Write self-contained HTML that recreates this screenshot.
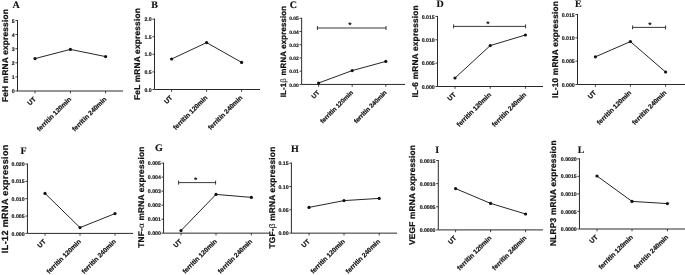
<!DOCTYPE html>
<html><head><meta charset="utf-8"><title>mRNA expression charts</title><style>
html,body{margin:0;padding:0;background:#fff;}
svg{display:block;filter:grayscale(1) blur(0.25px);}
text{font-family:"Liberation Sans",sans-serif;font-weight:bold;fill:#111;text-rendering:geometricPrecision;}
.lt{font-family:"Liberation Serif",serif;font-weight:bold;font-size:10px;fill:#111;stroke:#111;stroke-width:0.15px;}
.yl{font-size:8.65px;letter-spacing:0.2px;stroke:#111;stroke-width:0.25px;}
.tk{font-size:4.8px;stroke:#111;stroke-width:0.15px;}
.xl{font-size:6.6px;stroke:#111;stroke-width:0.2px;}
.gk{font-weight:normal;stroke-width:0.05px;}
</style></head><body>
<svg width="685" height="275" viewBox="0 0 685 275">
<rect width="685" height="275" fill="#fff"/>
<g>
<text class="lt" x="12.4" y="7.7">A</text>
<path d="M17.5 20.0V91.0H123" fill="none" stroke="#2a2a2a" stroke-width="1"/>
<path d="M15.40 91.00H17.5M15.40 76.90H17.5M15.40 62.80H17.5M15.40 48.70H17.5M15.40 34.60H17.5M15.40 20.50H17.5M35 91.0V93.30M70.4 91.0V93.30M105.6 91.0V93.30" fill="none" stroke="#2a2a2a" stroke-width="0.9"/>
<text class="tk" style="font-size:5.20px" text-anchor="end" x="14.7" y="93.10">0</text>
<text class="tk" style="font-size:5.20px" text-anchor="end" x="14.7" y="79.00">1</text>
<text class="tk" style="font-size:5.20px" text-anchor="end" x="14.7" y="64.90">2</text>
<text class="tk" style="font-size:5.20px" text-anchor="end" x="14.7" y="50.80">3</text>
<text class="tk" style="font-size:5.20px" text-anchor="end" x="14.7" y="36.70">4</text>
<text class="tk" style="font-size:5.20px" text-anchor="end" x="14.7" y="22.60">5</text>
<text class="xl" style="font-size:6.60px" text-anchor="end" transform="translate(36.3,99.6) rotate(-45)">UT</text>
<text class="xl" style="font-size:6.60px" text-anchor="end" transform="translate(71.7,99.6) rotate(-45)">ferritin 120min</text>
<text class="xl" style="font-size:6.60px" text-anchor="end" transform="translate(106.9,99.6) rotate(-45)">ferritin 240min</text>
<text class="yl" style="font-size:8.30px;letter-spacing:0.2px" text-anchor="middle" transform="translate(8.2,55.5) rotate(-90)">FeH mRNA expression</text>
<path d="M35 58.6L70.4 49.4L105.6 56.6" fill="none" stroke="#1a1a1a" stroke-width="0.95"/>
<circle cx="35" cy="58.6" r="1.6" fill="#111"/>
<circle cx="70.4" cy="49.4" r="1.6" fill="#111"/>
<circle cx="105.6" cy="56.6" r="1.6" fill="#111"/>
</g>
<g>
<text class="lt" x="151.3" y="7.9">B</text>
<path d="M154.5 18.64V89.5H260" fill="none" stroke="#2a2a2a" stroke-width="1"/>
<path d="M152.40 89.50H154.5M152.40 71.91H154.5M152.40 54.32H154.5M152.40 36.73H154.5M152.40 19.14H154.5M171.6 89.5V91.80M206.6 89.5V91.80M241.6 89.5V91.80" fill="none" stroke="#2a2a2a" stroke-width="0.9"/>
<text class="tk" style="font-size:5.20px" text-anchor="end" x="151.7" y="91.60">0.0</text>
<text class="tk" style="font-size:5.20px" text-anchor="end" x="151.7" y="74.01">0.5</text>
<text class="tk" style="font-size:5.20px" text-anchor="end" x="151.7" y="56.42">1.0</text>
<text class="tk" style="font-size:5.20px" text-anchor="end" x="151.7" y="38.83">1.5</text>
<text class="tk" style="font-size:5.20px" text-anchor="end" x="151.7" y="21.24">2.0</text>
<text class="xl" style="font-size:6.60px" text-anchor="end" transform="translate(172.9,98.1) rotate(-45)">UT</text>
<text class="xl" style="font-size:6.60px" text-anchor="end" transform="translate(207.9,98.1) rotate(-45)">ferritin 120min</text>
<text class="xl" style="font-size:6.60px" text-anchor="end" transform="translate(242.9,98.1) rotate(-45)">ferritin 240min</text>
<text class="yl" style="font-size:8.30px;letter-spacing:0.2px" text-anchor="middle" transform="translate(139.8,54.0) rotate(-90)">FeL mRNA expression</text>
<path d="M171.6 59L206.6 42.6L241.6 62.4" fill="none" stroke="#1a1a1a" stroke-width="0.95"/>
<circle cx="171.6" cy="59" r="1.6" fill="#111"/>
<circle cx="206.6" cy="42.6" r="1.6" fill="#111"/>
<circle cx="241.6" cy="62.4" r="1.6" fill="#111"/>
</g>
<g>
<text class="lt" x="289.7" y="7.5">C</text>
<path d="M301.65 17.799999999999997V84.45H405" fill="none" stroke="#2a2a2a" stroke-width="1"/>
<path d="M299.55 84.45H301.65M299.55 71.22H301.65M299.55 57.99H301.65M299.55 44.76H301.65M299.55 31.53H301.65M299.55 18.30H301.65M318.6 84.45V86.75M352.2 84.45V86.75M385.8 84.45V86.75" fill="none" stroke="#2a2a2a" stroke-width="0.9"/>
<text class="tk" style="font-size:4.97px" text-anchor="end" x="298.8" y="86.55">0.00</text>
<text class="tk" style="font-size:4.97px" text-anchor="end" x="298.8" y="73.32">0.01</text>
<text class="tk" style="font-size:4.97px" text-anchor="end" x="298.8" y="60.09">0.02</text>
<text class="tk" style="font-size:4.97px" text-anchor="end" x="298.8" y="46.86">0.03</text>
<text class="tk" style="font-size:4.97px" text-anchor="end" x="298.8" y="33.63">0.04</text>
<text class="tk" style="font-size:4.97px" text-anchor="end" x="298.8" y="20.40">0.05</text>
<text class="xl" style="font-size:6.30px" text-anchor="end" transform="translate(319.9,93.0) rotate(-45)">UT</text>
<text class="xl" style="font-size:6.30px" text-anchor="end" transform="translate(353.5,93.0) rotate(-45)">ferritin 120min</text>
<text class="xl" style="font-size:6.30px" text-anchor="end" transform="translate(387.1,93.0) rotate(-45)">ferritin 240min</text>
<text class="yl" style="font-size:7.80px;letter-spacing:0.2px" text-anchor="middle" transform="translate(286.1,51.5) rotate(-90)">IL-1<tspan class="gk">β</tspan> mRNA expression</text>
<path d="M318.6 83L352.2 70.6L385.8 61.4" fill="none" stroke="#1a1a1a" stroke-width="0.95"/>
<circle cx="318.6" cy="83" r="1.6" fill="#111"/>
<circle cx="352.2" cy="70.6" r="1.6" fill="#111"/>
<circle cx="385.8" cy="61.4" r="1.6" fill="#111"/>
<path d="M317.4 28H386M317.4 26V30M386 26V30" fill="none" stroke="#222" stroke-width="0.9"/>
<text x="350" y="28.1" text-anchor="middle" style="font-size:8.5px">*</text>
</g>
<g>
<text class="lt" x="436.5" y="7.4">D</text>
<path d="M437.5 15.949999999999989V86.5H543" fill="none" stroke="#2a2a2a" stroke-width="1"/>
<path d="M435.40 86.50H437.5M435.40 63.15H437.5M435.40 39.80H437.5M435.40 16.45H437.5M455 86.5V88.80M490.2 86.5V88.80M525.4 86.5V88.80" fill="none" stroke="#2a2a2a" stroke-width="0.9"/>
<text class="tk" style="font-size:5.20px" text-anchor="end" x="434.7" y="88.60">0.000</text>
<text class="tk" style="font-size:5.20px" text-anchor="end" x="434.7" y="65.25">0.005</text>
<text class="tk" style="font-size:5.20px" text-anchor="end" x="434.7" y="41.90">0.010</text>
<text class="tk" style="font-size:5.20px" text-anchor="end" x="434.7" y="18.55">0.015</text>
<text class="xl" style="font-size:6.60px" text-anchor="end" transform="translate(456.3,95.1) rotate(-45)">UT</text>
<text class="xl" style="font-size:6.60px" text-anchor="end" transform="translate(491.5,95.1) rotate(-45)">ferritin 120min</text>
<text class="xl" style="font-size:6.60px" text-anchor="end" transform="translate(526.7,95.1) rotate(-45)">ferritin 240min</text>
<text class="yl" style="font-size:8.30px;letter-spacing:0.2px" text-anchor="middle" transform="translate(417.7,51.3) rotate(-90)">IL-6 mRNA expression</text>
<path d="M455 78L490.2 45.6L525.4 35" fill="none" stroke="#1a1a1a" stroke-width="0.95"/>
<circle cx="455" cy="78" r="1.6" fill="#111"/>
<circle cx="490.2" cy="45.6" r="1.6" fill="#111"/>
<circle cx="525.4" cy="35" r="1.6" fill="#111"/>
<path d="M453.6 26.4H525.6M453.6 24.4V28.4M525.6 24.4V28.4" fill="none" stroke="#222" stroke-width="0.9"/>
<text x="488" y="27.1" text-anchor="middle" style="font-size:8.5px">*</text>
</g>
<g>
<text class="lt" x="575" y="7.2">E</text>
<path d="M577.5 14.010000000000005V84.5H685" fill="none" stroke="#2a2a2a" stroke-width="1"/>
<path d="M575.40 84.50H577.5M575.40 61.17H577.5M575.40 37.84H577.5M575.40 14.51H577.5M595.4 84.5V86.80M630.4 84.5V86.80M665.6 84.5V86.80" fill="none" stroke="#2a2a2a" stroke-width="0.9"/>
<text class="tk" style="font-size:5.20px" text-anchor="end" x="574.7" y="86.60">0.000</text>
<text class="tk" style="font-size:5.20px" text-anchor="end" x="574.7" y="63.27">0.005</text>
<text class="tk" style="font-size:5.20px" text-anchor="end" x="574.7" y="39.94">0.010</text>
<text class="tk" style="font-size:5.20px" text-anchor="end" x="574.7" y="16.61">0.015</text>
<text class="xl" style="font-size:6.60px" text-anchor="end" transform="translate(596.7,93.1) rotate(-45)">UT</text>
<text class="xl" style="font-size:6.60px" text-anchor="end" transform="translate(631.7,93.1) rotate(-45)">ferritin 120min</text>
<text class="xl" style="font-size:6.60px" text-anchor="end" transform="translate(666.9,93.1) rotate(-45)">ferritin 240min</text>
<text class="yl" style="font-size:8.30px;letter-spacing:0.2px" text-anchor="middle" transform="translate(558.2,49.5) rotate(-90)">IL-10 mRNA expression</text>
<path d="M595.4 56.8L630.4 41.6L665.6 72" fill="none" stroke="#1a1a1a" stroke-width="0.95"/>
<circle cx="595.4" cy="56.8" r="1.6" fill="#111"/>
<circle cx="630.4" cy="41.6" r="1.6" fill="#111"/>
<circle cx="665.6" cy="72" r="1.6" fill="#111"/>
<path d="M632.6 27.4H665.6M632.6 25.4V29.4M665.6 25.4V29.4" fill="none" stroke="#222" stroke-width="0.9"/>
<text x="650" y="28.1" text-anchor="middle" style="font-size:8.5px">*</text>
</g>
<g>
<text class="lt" x="20.6" y="154">F</text>
<path d="M27.45 163.54000000000002V233.4H133" fill="none" stroke="#2a2a2a" stroke-width="1"/>
<path d="M25.35 233.40H27.45M25.35 216.06H27.45M25.35 198.72H27.45M25.35 181.38H27.45M25.35 164.04H27.45M45 233.4V235.70M80 233.4V235.70M115 233.4V235.70" fill="none" stroke="#2a2a2a" stroke-width="0.9"/>
<text class="tk" style="font-size:5.20px" text-anchor="end" x="24.6" y="235.50">0.000</text>
<text class="tk" style="font-size:5.20px" text-anchor="end" x="24.6" y="218.16">0.005</text>
<text class="tk" style="font-size:5.20px" text-anchor="end" x="24.6" y="200.82">0.010</text>
<text class="tk" style="font-size:5.20px" text-anchor="end" x="24.6" y="183.48">0.015</text>
<text class="tk" style="font-size:5.20px" text-anchor="end" x="24.6" y="166.14">0.020</text>
<text class="xl" style="font-size:6.60px" text-anchor="end" transform="translate(46.3,242.0) rotate(-45)">UT</text>
<text class="xl" style="font-size:6.60px" text-anchor="end" transform="translate(81.3,242.0) rotate(-45)">ferritin 120min</text>
<text class="xl" style="font-size:6.60px" text-anchor="end" transform="translate(116.3,242.0) rotate(-45)">ferritin 240min</text>
<text class="yl" style="font-size:9.00px;letter-spacing:0.39px" text-anchor="middle" transform="translate(7.5,198.7) rotate(-90)">IL-12 mRNA expression</text>
<path d="M45 193.4L80 227.6L115 213.6" fill="none" stroke="#1a1a1a" stroke-width="0.95"/>
<circle cx="45" cy="193.4" r="1.6" fill="#111"/>
<circle cx="80" cy="227.6" r="1.6" fill="#111"/>
<circle cx="115" cy="213.6" r="1.6" fill="#111"/>
</g>
<g>
<text class="lt" x="155" y="151.2">G</text>
<path d="M163.55 162.65V233.15H269.5" fill="none" stroke="#2a2a2a" stroke-width="1"/>
<path d="M161.45 233.15H163.55M161.45 219.15H163.55M161.45 205.15H163.55M161.45 191.15H163.55M161.45 177.15H163.55M161.45 163.15H163.55M181 233.15V235.45M216 233.15V235.45M251.4 233.15V235.45" fill="none" stroke="#2a2a2a" stroke-width="0.9"/>
<text class="tk" style="font-size:5.20px" text-anchor="end" x="160.8" y="235.25">0.000</text>
<text class="tk" style="font-size:5.20px" text-anchor="end" x="160.8" y="221.25">0.001</text>
<text class="tk" style="font-size:5.20px" text-anchor="end" x="160.8" y="207.25">0.002</text>
<text class="tk" style="font-size:5.20px" text-anchor="end" x="160.8" y="193.25">0.003</text>
<text class="tk" style="font-size:5.20px" text-anchor="end" x="160.8" y="179.25">0.004</text>
<text class="tk" style="font-size:5.20px" text-anchor="end" x="160.8" y="165.25">0.005</text>
<text class="xl" style="font-size:6.60px" text-anchor="end" transform="translate(182.3,241.8) rotate(-45)">UT</text>
<text class="xl" style="font-size:6.60px" text-anchor="end" transform="translate(217.3,241.8) rotate(-45)">ferritin 120min</text>
<text class="xl" style="font-size:6.60px" text-anchor="end" transform="translate(252.7,241.8) rotate(-45)">ferritin 240min</text>
<text class="yl" style="font-size:8.30px;letter-spacing:0.2px" text-anchor="middle" transform="translate(144.4,197.1) rotate(-90)">TNF-<tspan class="gk">α</tspan> mRNA expression</text>
<path d="M181 230.6L216 194.4L251.4 197.4" fill="none" stroke="#1a1a1a" stroke-width="0.95"/>
<circle cx="181" cy="230.6" r="1.6" fill="#111"/>
<circle cx="216" cy="194.4" r="1.6" fill="#111"/>
<circle cx="251.4" cy="197.4" r="1.6" fill="#111"/>
<path d="M178.6 182.6H215.6M178.6 180.6V184.6M215.6 180.6V184.6" fill="none" stroke="#222" stroke-width="0.9"/>
<text x="195.6" y="183.1" text-anchor="middle" style="font-size:8.5px">*</text>
</g>
<g>
<text class="lt" x="291.0" y="151.6">H</text>
<path d="M291.4 162.66000000000003V233.15H397" fill="none" stroke="#2a2a2a" stroke-width="1"/>
<path d="M289.30 233.15H291.4M289.30 209.82H291.4M289.30 186.49H291.4M289.30 163.16H291.4M309 233.15V235.45M344 233.15V235.45M379.2 233.15V235.45" fill="none" stroke="#2a2a2a" stroke-width="0.9"/>
<text class="tk" style="font-size:5.20px" text-anchor="end" x="288.6" y="235.25">0.00</text>
<text class="tk" style="font-size:5.20px" text-anchor="end" x="288.6" y="211.92">0.05</text>
<text class="tk" style="font-size:5.20px" text-anchor="end" x="288.6" y="188.59">0.10</text>
<text class="tk" style="font-size:5.20px" text-anchor="end" x="288.6" y="165.26">0.15</text>
<text class="xl" style="font-size:6.60px" text-anchor="end" transform="translate(310.3,241.8) rotate(-45)">UT</text>
<text class="xl" style="font-size:6.60px" text-anchor="end" transform="translate(345.3,241.8) rotate(-45)">ferritin 120min</text>
<text class="xl" style="font-size:6.60px" text-anchor="end" transform="translate(380.5,241.8) rotate(-45)">ferritin 240min</text>
<text class="yl" style="font-size:8.30px;letter-spacing:0.2px" text-anchor="middle" transform="translate(275.1,197.5) rotate(-90)">TGF-<tspan class="gk">β</tspan> mRNA expression</text>
<path d="M309 207.4L344 200.6L379.2 198.4" fill="none" stroke="#1a1a1a" stroke-width="0.95"/>
<circle cx="309" cy="207.4" r="1.6" fill="#111"/>
<circle cx="344" cy="200.6" r="1.6" fill="#111"/>
<circle cx="379.2" cy="198.4" r="1.6" fill="#111"/>
</g>
<g>
<text class="lt" x="435.2" y="152.7">I</text>
<path d="M438.3 160.01V229.9H543" fill="none" stroke="#2a2a2a" stroke-width="1"/>
<path d="M436.20 229.90H438.3M436.20 206.77H438.3M436.20 183.64H438.3M436.20 160.51H438.3M455.6 229.9V232.20M490.6 229.9V232.20M525.6 229.9V232.20" fill="none" stroke="#2a2a2a" stroke-width="0.9"/>
<text class="tk" style="font-size:5.20px" text-anchor="end" x="435.5" y="232.00">0.0000</text>
<text class="tk" style="font-size:5.20px" text-anchor="end" x="435.5" y="208.87">0.0005</text>
<text class="tk" style="font-size:5.20px" text-anchor="end" x="435.5" y="185.74">0.0010</text>
<text class="tk" style="font-size:5.20px" text-anchor="end" x="435.5" y="162.61">0.0015</text>
<text class="xl" style="font-size:6.60px" text-anchor="end" transform="translate(456.9,238.5) rotate(-45)">UT</text>
<text class="xl" style="font-size:6.60px" text-anchor="end" transform="translate(491.9,238.5) rotate(-45)">ferritin 120min</text>
<text class="xl" style="font-size:6.60px" text-anchor="end" transform="translate(526.9,238.5) rotate(-45)">ferritin 240min</text>
<text class="yl" style="font-size:8.30px;letter-spacing:0.2px" text-anchor="middle" transform="translate(415.3,194.9) rotate(-90)">VEGF mRNA expression</text>
<path d="M455.6 188.6L490.6 203.4L525.6 214" fill="none" stroke="#1a1a1a" stroke-width="0.95"/>
<circle cx="455.6" cy="188.6" r="1.6" fill="#111"/>
<circle cx="490.6" cy="203.4" r="1.6" fill="#111"/>
<circle cx="525.6" cy="214" r="1.6" fill="#111"/>
</g>
<g>
<text class="lt" x="577.7" y="153">L</text>
<path d="M579.45 158.3V229H685" fill="none" stroke="#2a2a2a" stroke-width="1"/>
<path d="M577.35 229.00H579.45M577.35 211.45H579.45M577.35 193.90H579.45M577.35 176.35H579.45M577.35 158.80H579.45M597 229V231.30M632 229V231.30M667.4 229V231.30" fill="none" stroke="#2a2a2a" stroke-width="0.9"/>
<text class="tk" style="font-size:5.20px" text-anchor="end" x="576.7" y="231.10">0.0000</text>
<text class="tk" style="font-size:5.20px" text-anchor="end" x="576.7" y="213.55">0.0005</text>
<text class="tk" style="font-size:5.20px" text-anchor="end" x="576.7" y="196.00">0.0010</text>
<text class="tk" style="font-size:5.20px" text-anchor="end" x="576.7" y="178.45">0.0015</text>
<text class="tk" style="font-size:5.20px" text-anchor="end" x="576.7" y="160.90">0.0020</text>
<text class="xl" style="font-size:6.60px" text-anchor="end" transform="translate(598.3,237.6) rotate(-45)">UT</text>
<text class="xl" style="font-size:6.60px" text-anchor="end" transform="translate(633.3,237.6) rotate(-45)">ferritin 120min</text>
<text class="xl" style="font-size:6.60px" text-anchor="end" transform="translate(668.7,237.6) rotate(-45)">ferritin 240min</text>
<text class="yl" style="font-size:8.40px;letter-spacing:0.2px" text-anchor="middle" transform="translate(556.4,193.2) rotate(-90)">NLRP3 mRNA expression</text>
<path d="M597 176L632 201.4L667.4 203.6" fill="none" stroke="#1a1a1a" stroke-width="0.95"/>
<circle cx="597" cy="176" r="1.6" fill="#111"/>
<circle cx="632" cy="201.4" r="1.6" fill="#111"/>
<circle cx="667.4" cy="203.6" r="1.6" fill="#111"/>
</g>
</svg></body></html>
